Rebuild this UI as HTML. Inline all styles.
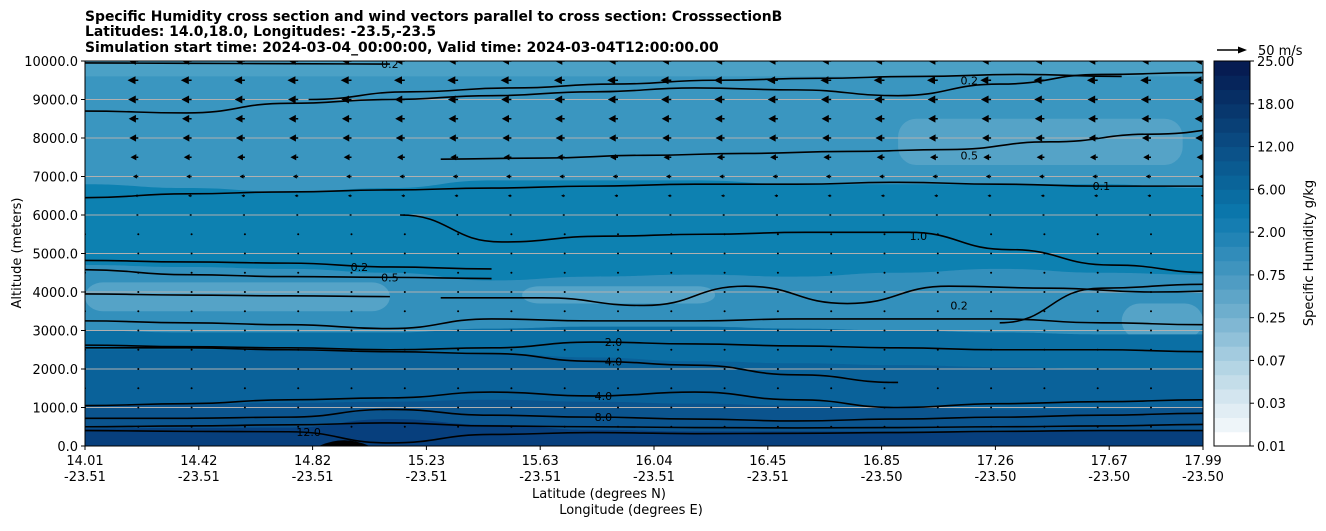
<!DOCTYPE html>
<html><head><meta charset="utf-8"><style>
html,body{margin:0;padding:0;background:#fff;}
svg text{font-family:"DejaVu Sans","Liberation Sans",sans-serif;}
</style></head><body>
<svg id="chart" width="1326" height="526" viewBox="0 0 1326 526" xmlns="http://www.w3.org/2000/svg">
<defs><clipPath id="plotclip"><rect x="85" y="61" width="1118" height="385"/></clipPath></defs>
<g font-size="13.9" font-weight="bold" fill="#000">
<text x="85" y="21">Specific Humidity cross section and wind vectors parallel to cross section: CrosssectionB</text>
<text x="85" y="36">Latitudes: 14.0,18.0, Longitudes: -23.5,-23.5</text>
<text x="85" y="52">Simulation start time: 2024-03-04_00:00:00, Valid time: 2024-03-04T12:00:00.00</text>
</g>
<g id="fills" clip-path="url(#plotclip)"></g>
<g id="grid" clip-path="url(#plotclip)"></g>
<g id="lines" clip-path="url(#plotclip)"></g>
<g id="arrows" clip-path="url(#plotclip)"></g>
<rect x="85" y="61" width="1118" height="385" fill="none" stroke="#000" stroke-width="1"/>
<g id="yaxis" font-size="13"></g>
<g id="xaxis" font-size="13"></g>
<text font-size="13" transform="translate(21,253) rotate(-90)" text-anchor="middle">Altitude (meters)</text>
<text font-size="13" x="599" y="498" text-anchor="middle">Latitude (degrees N)</text>
<text font-size="13" x="631" y="514" text-anchor="middle">Longitude (degrees E)</text>
<g id="cbar" font-size="13"></g>
<text font-size="13" transform="translate(1313,253) rotate(-90)" text-anchor="middle">Specific Humidity g/kg</text>
<g>
<line x1="1217" y1="50" x2="1240" y2="50" stroke="#000" stroke-width="1.6"/>
<polygon points="1247,50 1238,46.5 1238,53.5" fill="#000"/>
<text x="1258" y="55" font-size="13">50 m/s</text>
</g>
</svg>
<script>
const NS="http://www.w3.org/2000/svg";
// ---- data ----
const latLabels=["14.01","14.42","14.82","15.23","15.63","16.04","16.45","16.85","17.26","17.67","17.99"];
const lonLabels=["-23.51","-23.51","-23.51","-23.51","-23.51","-23.51","-23.51","-23.50","-23.50","-23.50","-23.50"];
const tickIdx=[0,1,2,3,4,5,6,7,8,9,10.83];
const yTicks=[0,1000,2000,3000,4000,5000,6000,7000,8000,9000,10000];
const cbarLabels=["0.01","0.03","0.07","0.25","0.75","2.00","6.00","12.00","18.00","25.00"];
// band boundaries: altitude (m) at 12 sample points along section
const bandTop=[
 {c:"#0d81b1",alt:[6800,6700,6600,6700,6900,6900,6900,6800,6800,6800,6800,6700]},
 {c:"#3390bc",alt:[4700,4650,4600,4500,4300,4400,4450,4400,4500,4600,4500,4450]},
 {c:"#0b6fa4",alt:[3000,2950,2950,2950,3050,3100,3100,3050,3000,2950,2900,2900]},
 {c:"#0a629a",alt:[2500,2500,2500,2450,2400,2300,2200,2150,2100,2050,2000,2000]},
 {c:"#0b548e",alt:[1050,1080,1120,1150,1200,1150,1100,1050,1000,950,950,1000]},
 {c:"#073f7d",alt:[450,470,480,700,550,420,380,380,380,380,380,380]}
];
// light patches: [x0,x1] in sample units, altitude bottom/top
const patchX0=[0,4.3,8.0,10.2];
const patchX1=[3.0,6.2,10.8,11];
const patchLo=[3500,3700,7300,2800];
const patchHi=[4250,4150,8500,3700];
const patchC=["#55a3c7","#55a3c7","#55a3c7","#55a3c7"];
// contour lines: start/end sample index + altitudes
const lineStart=[0,2.2,0,3.5,0,3.1,0,0,0,3.5,0,0,0,0,0,0,0,9.0];
const lineAlt=[
 [9950,9940,9930,9920],
 [9000,9200,9300,9400,9500,9550,9600,9650,9600],
 [8700,8650,8900,9000,9100,9200,9300,9250,9100,9400,9650,9700],
 [7450,7480,7550,7600,7650,7700,7900,8100,8300],
 [6450,6550,6600,6650,6700,6750,6800,6800,6850,6800,6750,6750],
 [6000,5300,5450,5500,5550,5550,5100,4700,4500,4400,4350],
 [4820,4780,4750,4650,4600],
 [4580,4450,4400,4380,4350],
 [3950,3920,3900,3880],
 [3850,3850,3650,4150,3700,4150,4100,4000,4050,3700,3600,3550],
 [3250,3200,3150,3050,3300,3250,3250,3300,3300,3300,3200,3150],
 [2620,2580,2550,2500,2550,2700,2650,2600,2550,2500,2500,2450],
 [2550,2550,2500,2450,2400,2200,2100,1850,1650],
 [1050,1100,1200,1250,1400,1300,1400,1200,1000,1100,1150,1200],
 [720,720,750,950,800,750,700,650,700,750,800,850],
 [500,520,550,600,520,500,480,470,480,500,520,560],
 [400,380,370,80,300,350,320,330,350,380,400,400],
 [3200,4100,4200,4300]
];
const lineLabel=[["0.2",3],["0.2",6.5],[null,0],["0.5",5.2],["0.1",10],["1.0",5.1],["0.2",2.7],["0.5",3.0],[null,0],["0.2",5.1],[null,0],["2.0",5.2],["4.0",5.2],["4.0",5.1],["8.0",5.1],[null,0],["12.0",2.2],["0.2",9.5]];
// wind: u component (m/s, negative = toward left) per altitude row
const windAlt=[500,1000,1500,2000,2500,3000,3500,4000,4500,5000,5500,6000,6500,7000,7500,8000,8500,9000,9500,10000];
const windU=[-1,-1,-1,-1.5,-1.5,-1.5,-2,-2,-2,-2.5,-3,-4,-6,-9,-13,-15,-16,-17,-18,-16];
const cbarColors=["#ffffff","#eef5f9","#e1edf4","#d3e5ef","#c4dde9","#b4d5e4","#a3cbdf","#91c1d9","#80b7d3","#6eaecd","#5ea5c8","#4f9cc3","#3f94be","#318cba","#2284b5","#157db1","#0b76ab","#0a6da2","#0a6499","#0a5b91","#0b5289","#0a4980","#094076","#08376d","#072e64","#06255b","#061c52"];
// ---- scales ----
const X0=85,X1=1203,Y0=446,Y1=61;
const xs=i=>X0+i*(X1-X0)/11;
const xt=k=>X0+k*113.8;
const ys=a=>Y0-(a/10000)*(Y0-Y1);
function el(t,a,p){const e=document.createElementNS(NS,t);for(const k in a)e.setAttribute(k,a[k]);p.appendChild(e);return e;}
function smooth(pts){let d="M"+pts[0][0]+","+pts[0][1];for(let i=1;i<pts.length;i++){const p0=pts[i-1],p1=pts[i];const mx=(p0[0]+p1[0])/2;d+=" C"+mx+","+p0[1]+" "+mx+","+p1[1]+" "+p1[0]+","+p1[1];}return d;}
// fills
const fills=document.getElementById("fills");
const bg=el("rect",{x:X0,y:Y1,width:X1-X0,height:Y0-Y1,fill:"#3a96c0"},fills);


const topPatch=el("rect",{x:X0,y:Y1,width:X1-X0,height:ys(9600)-Y1,fill:"#4ba1c6"},fills);


bandTop.forEach((b,bi)=>{
 const pts=b.alt.map((a,i)=>[xs(i),ys(a)]);
 const d=smooth(pts)+" L"+X1+","+Y0+" L"+X0+","+Y0+" Z";
 const p=el("path",{d:d,fill:b.c},fills);
 
 
 if(bi===1){
  patchX0.forEach((x0,j)=>{
   const r=el("rect",{x:xs(patchX0[j]),y:ys(patchHi[j]),width:xs(patchX1[j])-xs(patchX0[j]),height:ys(patchLo[j])-ys(patchHi[j]),rx:18,fill:patchC[j]},fills);
   
   
  });
 }
});
const blob=el("path",{d:"M"+xs(2.3)+","+Y0+" Q"+xs(2.55)+","+ys(300)+" "+xs(2.8)+","+Y0+" Z",fill:"#000"},fills);


// grid
const grid=document.getElementById("grid");
yTicks.forEach(v=>{if(v===0||v===10000)return;const g=el("line",{x1:X0,x2:X1,y1:ys(v),y2:ys(v),stroke:"#b0b0b0","stroke-width":1},grid);
 
 });
// contour lines
const lines=document.getElementById("lines");
lineAlt.forEach((arr,li)=>{
 const pts=arr.map((a,i)=>[xs(lineStart[li]+i),ys(a)]);
 const p=el("path",{d:smooth(pts),fill:"none",stroke:"#000","stroke-width":1.6},lines);
 
 
 const lb=lineLabel[li];
 if(lb[0]){
  const k=Math.min(arr.length-1,Math.max(0,Math.round(lb[1]-lineStart[li])));
  const x=xs(lineStart[li]+lb[1]),y=ys(arr[k]);
  const t=el("text",{x:x,y:y+4,"font-size":11,"text-anchor":"middle",fill:"#000"},lines);
  t.textContent=lb[0];
  
  
 }
});
// arrows
const arrows=document.getElementById("arrows");
for(let c=0;c<22;c++){
 const x=X0+c*53.3;
 windAlt.forEach((a,r)=>{
  const y=ys(a);
  const len=Math.abs(windU[r])*0.6;
  const g=el("g",{},arrows);
  
  
  if(len<2){el("circle",{cx:x,cy:y,r:1,fill:"#000"},g);}
  else{
   const hl=Math.min(8,len*0.75),hw=Math.min(4,len*0.4);
   el("line",{x1:x,y1:y,x2:x-len+hl,y2:y,stroke:"#000","stroke-width":1.5},g);
   el("polygon",{points:(x-len)+","+y+" "+(x-len+hl)+","+(y-hw)+" "+(x-len+hl)+","+(y+hw),fill:"#000"},g);
  }
 });
}
// y axis
const ya=document.getElementById("yaxis");
yTicks.forEach(v=>{
 el("line",{x1:X0-4,x2:X0,y1:ys(v),y2:ys(v),stroke:"#000"},ya);
 const t=el("text",{x:X0-7,y:ys(v)+5,"text-anchor":"end"},ya);
 t.textContent=v.toFixed(1);
 
 
});
// x axis
const xa=document.getElementById("xaxis");
tickIdx.forEach((k,i)=>{
 const x=i===10?X1:xt(k);
 el("line",{x1:x,x2:x,y1:Y0,y2:Y0+4,stroke:"#000"},xa);
 const t1=el("text",{x:x,y:Y0+19,"text-anchor":"middle"},xa);
 t1.textContent=latLabels[i];
 
 
 const t2=el("text",{x:x,y:Y0+35,"text-anchor":"middle"},xa);
 t2.textContent=lonLabels[i];
 
 
});
// colorbar
const cb=document.getElementById("cbar");
const CX=1214,CW=36,n=cbarColors.length,bh=(Y0-Y1)/n;
cbarColors.forEach((c,i)=>{
 const r=el("rect",{x:CX,y:Y0-(i+1)*bh,width:CW,height:bh+0.5,fill:c},cb);
 
 
});
el("rect",{x:CX,y:Y1,width:CW,height:Y0-Y1,fill:"none",stroke:"#000"},cb);
cbarLabels.forEach((l,i)=>{
 const y=Y0-i*(Y0-Y1)/(cbarLabels.length-1);
 el("line",{x1:CX+CW,x2:CX+CW+4,y1:y,y2:y,stroke:"#000"},cb);
 const t=el("text",{x:CX+CW+7,y:y+5},cb);
 t.textContent=l;
 
 
});
</script>
</body></html>
